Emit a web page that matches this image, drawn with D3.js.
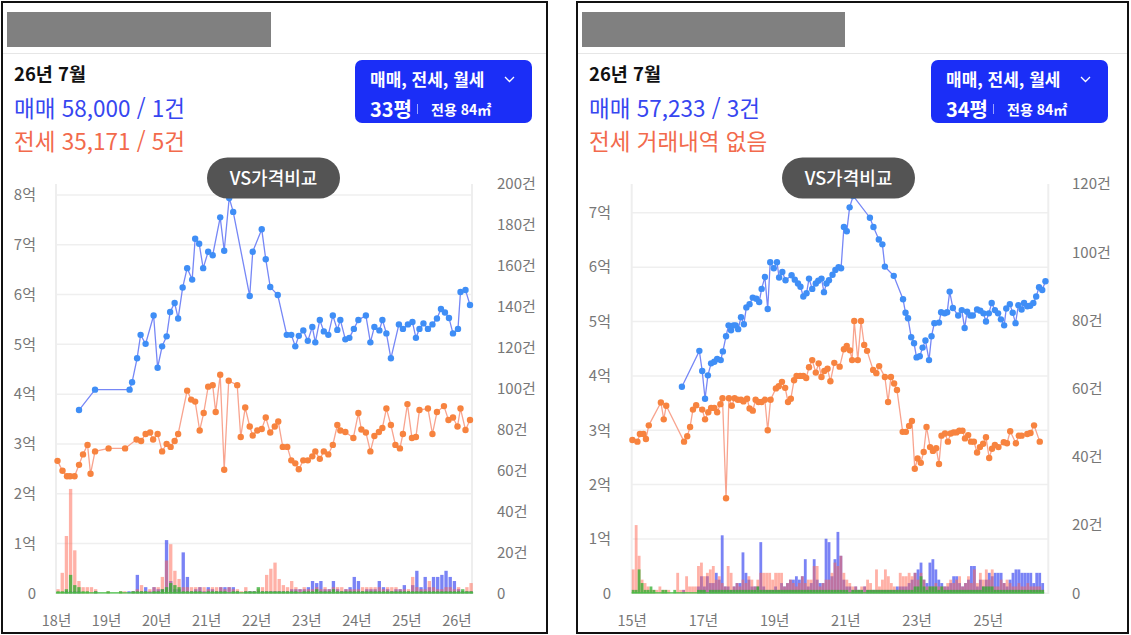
<!DOCTYPE html>
<html lang="ko">
<head>
<meta charset="UTF-8">
<script src="https://d3js.org/d3.v7.min.js"></script>
<style>
  body { margin: 0; background: #fff; }
  svg { display: block; font-family: "Noto Sans CJK KR", "Noto Sans", sans-serif; }
</style>
</head>
<body>
<svg id="chart" width="1131" height="635"></svg>
<script>
// ---------- left chart (33평) ----------
const leftSaleYears = [2018.46,2018.78,2019.47,2019.52,2019.62,2019.69,2019.79,2019.95,2020.03,2020.12,
  2020.21,2020.28,2020.37,2020.44,2020.53,2020.62,2020.72,2020.78,2020.86,2020.94,
  2021.04,2021.13,2021.28,2021.36,2021.46,2021.54,2021.87,2021.93,2022.11,2022.19,
  2022.28,2022.43,2022.61,2022.70,2022.78,2022.85,2022.94,2023.03,2023.12,2023.18,
  2023.27,2023.35,2023.44,2023.53,2023.62,2023.68,2023.78,2023.86,2023.95,2024.04,
  2024.19,2024.28,2024.36,2024.46,2024.52,2024.60,2024.69,2024.85,2024.93,2025.03,
  2025.12,2025.19,2025.26,2025.34,2025.43,2025.52,2025.61,2025.69,2025.77,2025.85,
  2025.93,2026.03,2026.08,2026.18,2026.27];
const leftSalePrice = [3.68,4.09,4.09,4.24,4.72,5.19,5.01,5.58,4.53,4.96,
  5.16,5.65,5.83,5.52,6.14,6.53,6.30,7.12,7.02,6.53,
  6.86,6.79,7.55,6.88,7.94,7.66,5.97,6.86,7.31,6.71,
  6.15,5.99,5.19,5.19,4.96,5.17,5.28,5.07,5.35,5.04,
  5.49,5.26,5.19,5.58,5.29,5.49,5.10,5.13,5.31,5.49,
  5.58,5.04,5.35,5.28,5.49,5.22,4.72,5.40,5.31,5.40,
  5.45,5.13,5.31,5.42,5.31,5.40,5.52,5.71,5.64,5.53,
  5.22,5.31,6.05,6.09,5.79];
const leftJeonseYears = [2018.03,2018.13,2018.22,2018.28,2018.37,2018.46,2018.54,2018.63,2018.69,2018.78,
  2019.05,2019.38,2019.61,2019.70,2019.79,2019.88,2019.94,2020.03,2020.12,2020.21,
  2020.29,2020.37,2020.44,2020.62,2020.70,2020.78,2020.87,2020.95,2021.04,2021.13,
  2021.19,2021.28,2021.36,2021.45,2021.62,2021.69,2021.78,2021.87,2021.93,2022.02,
  2022.11,2022.19,2022.28,2022.37,2022.44,2022.53,2022.62,2022.70,2022.78,2022.85,
  2022.94,2023.03,2023.12,2023.18,2023.27,2023.35,2023.44,2023.53,2023.62,2023.68,
  2023.78,2023.94,2024.04,2024.10,2024.19,2024.28,2024.36,2024.45,2024.52,2024.60,
  2024.69,2024.78,2024.87,2024.93,2025.02,2025.11,2025.19,2025.26,2025.43,2025.52,
  2025.61,2025.75,2025.84,2025.93,2026.02,2026.08,2026.18,2026.27];
const leftJeonsePrice = [2.66,2.46,2.35,2.35,2.35,2.58,2.79,2.98,2.40,2.85,
  2.91,2.91,3.09,3.06,3.20,3.23,3.09,3.20,2.85,3.00,
  2.94,3.06,3.20,4.07,3.89,3.85,3.27,3.62,4.15,4.18,
  3.64,4.39,2.48,4.27,4.18,3.14,3.73,3.35,3.17,3.27,
  3.30,3.53,3.23,3.35,3.45,2.94,2.94,2.67,2.61,2.49,
  2.67,2.67,2.75,2.85,2.70,2.85,2.79,2.98,3.38,3.27,
  3.24,3.12,3.62,3.29,3.23,2.85,3.16,3.24,3.32,3.71,
  3.38,2.98,2.91,3.20,3.80,3.12,3.14,3.68,3.71,3.20,
  3.64,3.76,3.48,3.53,3.35,3.71,3.28,3.48];
// monthly trade counts from 2018-01
const leftSaleVol = [0,0,1,1,1,1,0,0,0,1, 0,0,0,0,0,0,0,1,1,9, 1,3,1,3,2,2,26,6,2,2,
  20,8,1,2,3,1,3,2,1,3, 3,3,3,1,0,1,1,1,1,1, 1,1,1,1,1,1,2,2,2,2,
  3,6,5,6,2,2,6,2,1,2, 3,8,6,1,2,2,2,6,3,2, 1,2,2,4,1,4,11,3,8,3, 8,8,9,11,8,6,2,1,1,1];
const leftJeonseVol = [2,10,28,51,21,6,3,3,3,2, 0,0,1,0,0,1,1,0,1,2, 4,1,2,3,3,8,16,24,11,7,
  3,3,3,3,3,3,2,3,3,3, 2,3,2,2,1,3,1,1,2,3, 9,12,15,7,4,3,6,3,2,3,
  2,2,3,2,3,2,3,3,3,2, 2,2,2,3,3,3,3,3,2,3, 3,3,2,2,2,8,3,2,2,6, 3,2,2,3,3,2,3,1,3,5];
const leftRentVol = [1,1,2,9,4,3,1,1,0,1, 0,0,1,0,0,1,0,0,1,1, 1,1,0,1,1,2,3,5,4,3,
  1,1,1,1,1,0,1,1,1,1, 1,0,1,1,0,1,1,1,3,1, 1,1,1,1,1,1,1,1,0,1,
  1,1,2,1,1,1,2,1,1,1, 1,1,1,1,1,1,1,1,1,1, 1,1,1,1,1,1,1,1,1,1, 1,1,1,1,1,1,1,2,1,1];
const leftPriceTicks = [0,1,2,3,4,5,6,7,8];
const leftCountTicks = [0,20,40,60,80,100,120,140,160,180,200];
const leftYearTicks = [2018,2019,2020,2021,2022,2023,2024,2025,2026];

// ---------- right chart (34평) ----------
const rightSaleYears = [2016.41,2016.90,2016.98,2017.06,2017.14,2017.23,2017.32,2017.40,2017.50,2017.56,
  2017.65,2017.72,2017.79,2017.86,2017.92,2017.99,2018.07,2018.15,2018.22,2018.31,
  2018.40,2018.50,2018.58,2018.65,2018.74,2018.82,2018.89,2018.99,2019.08,2019.14,
  2019.23,2019.32,2019.49,2019.58,2019.67,2019.74,2019.82,2019.91,2019.98,2020.07,
  2020.17,2020.24,2020.33,2020.40,2020.47,2020.54,2020.64,2020.72,2020.81,2020.88,
  2020.96,2021.04,2021.12,2021.22,2021.69,2021.79,2021.94,2022.04,2022.11,2022.36,
  2022.62,2022.69,2022.76,2022.85,2022.93,2023.00,2023.09,2023.17,2023.25,2023.35,
  2023.42,2023.50,2023.63,2023.69,2023.79,2023.86,2023.93,2024.02,2024.17,2024.27,
  2024.35,2024.42,2024.51,2024.58,2024.70,2024.79,2024.88,2024.95,2025.03,2025.11,
  2025.20,2025.29,2025.37,2025.46,2025.52,2025.62,2025.70,2025.78,2025.86,2025.95,
  2026.02,2026.11,2026.19,2026.28,2026.36,2026.44,2026.53,2026.62];
const rightSalePrice = [3.80,4.46,4.09,3.58,4.01,4.23,4.26,4.31,4.29,4.45,
  4.73,4.93,4.84,4.93,4.93,4.86,5.08,4.95,5.26,5.32,
  5.44,5.42,5.36,5.60,5.82,5.23,6.09,5.98,6.09,5.81,
  5.91,5.76,5.85,5.77,5.70,5.64,5.46,5.52,5.79,5.60,
  5.70,5.75,5.79,5.54,5.70,5.76,5.86,5.95,6.00,5.98,
  6.74,6.66,7.10,7.31,6.91,6.74,6.51,6.42,6.01,5.84,
  5.41,5.16,5.06,4.71,4.60,4.34,4.36,4.52,4.65,4.29,
  4.73,4.97,4.98,5.17,5.15,5.17,5.55,5.25,5.11,5.21,
  4.88,5.18,5.11,5.11,5.22,5.20,5.15,5.00,5.15,5.34,
  5.21,5.15,5.04,4.93,5.24,5.32,5.16,4.97,5.30,5.22,
  5.34,5.28,5.29,5.34,5.46,5.63,5.58,5.74];
const rightJeonseYears = [2015.02,2015.16,2015.23,2015.33,2015.40,2015.48,2015.82,2015.90,2015.97,2016.47,
  2016.56,2016.64,2016.72,2016.81,2016.98,2017.06,2017.15,2017.23,2017.32,2017.40,
  2017.49,2017.55,2017.65,2017.73,2017.81,2017.89,2017.98,2018.07,2018.14,2018.24,
  2018.31,2018.40,2018.48,2018.56,2018.65,2018.74,2018.82,2018.90,2019.05,2019.13,
  2019.22,2019.31,2019.39,2019.47,2019.56,2019.63,2019.73,2019.82,2019.90,2019.98,
  2020.07,2020.17,2020.25,2020.33,2020.41,2020.50,2020.58,2020.69,2020.84,2020.96,
  2021.04,2021.13,2021.19,2021.25,2021.35,2021.44,2021.53,2021.61,2021.78,2021.87,
  2021.95,2022.11,2022.20,2022.28,2022.37,2022.45,2022.61,2022.70,2022.79,2022.87,
  2022.95,2023.03,2023.12,2023.20,2023.28,2023.38,2023.46,2023.55,2023.63,2023.70,
  2023.80,2023.88,2023.96,2024.04,2024.12,2024.20,2024.29,2024.36,2024.45,2024.53,
  2024.61,2024.70,2024.78,2024.87,2024.95,2025.04,2025.12,2025.20,2025.30,2025.45,
  2025.54,2025.63,2025.79,2025.87,2025.95,2026.11,2026.20,2026.30,2026.46];
const rightJeonsePrice = [2.82,2.79,2.93,2.93,2.84,3.09,3.51,3.20,3.45,2.79,
  2.89,3.06,3.38,3.46,3.38,3.20,3.33,3.41,3.41,3.33,
  3.48,3.59,1.75,3.59,3.45,3.59,3.56,3.56,3.53,3.58,
  3.40,3.36,3.56,3.52,3.52,3.56,3.00,3.56,3.77,3.81,
  3.89,3.78,3.52,3.58,3.92,4.00,4.00,4.00,3.96,4.16,
  4.29,4.06,4.23,3.98,4.09,4.13,3.90,4.24,4.17,4.49,
  4.55,4.47,4.29,5.01,4.29,5.01,4.57,4.46,4.11,4.05,
  4.18,3.98,3.52,3.98,3.86,3.74,2.97,2.97,3.08,3.17,
  2.29,2.48,2.40,2.60,3.06,2.69,2.62,2.67,2.38,2.90,
  2.94,2.79,2.94,2.96,2.96,2.99,2.99,2.85,2.91,2.79,
  2.79,2.59,2.69,2.75,2.87,2.49,2.66,2.73,2.69,2.78,
  2.76,2.98,2.76,2.90,2.90,2.93,2.95,3.09,2.79];
// monthly trade counts from 2015-01
const rightSaleVol = [0,0,0,0,0,0,0,0,0,0, 0,0,0,0,0,0,0,1,0,0, 0,0,2,5,2,5,3,3,6,4,
  17,2,2,1,2,3,3,12,6,4, 2,2,2,15,2,1,1,1,2,1, 3,2,3,4,4,5,4,5,10,2,
  3,10,4,3,3,16,15,5,10,18, 11,4,2,2,1,2,1,1,2,1, 1,1,1,1,1,1,1,1,1,2,
  2,2,2,3,4,6,7,9,4,3, 9,10,7,4,3,2,2,3,5,5, 3,2,3,4,8,8,2,4,2,4,
  6,5,6,6,6,3,2,4,6,7, 7,6,6,6,6,3,6,6,3];
const rightJeonseVol = [7,20,11,4,3,2,1,1,1,2, 1,1,1,0,0,6,1,1,5,2, 2,2,8,9,5,6,7,8,4,5,
  3,2,8,6,2,3,2,4,3,5, 4,2,4,6,6,6,6,4,6,6, 6,2,3,4,3,2,3,5,3,4,
  4,8,8,2,3,4,4,6,9,8, 11,6,4,3,2,2,1,2,2,4, 3,1,7,2,4,7,5,3,2,1,
  6,5,5,6,5,6,4,6,4,2, 2,2,3,2,2,2,3,4,3,4, 5,2,3,5,3,7,3,6,4,7,
  4,7,2,2,4,3,4,3,2,2, 3,2,2,3,2,2,2,2,1];
const rightRentVol = [1,1,7,3,1,1,2,1,0,0, 1,1,0,0,1,0,0,0,0,0, 0,0,1,1,1,0,1,1,1,1,
  1,1,1,1,1,1,1,1,1,1, 1,1,2,1,1,1,1,1,1,1, 1,1,1,1,1,1,1,1,1,1,
  1,1,1,1,1,1,1,1,1,1, 1,1,1,0,1,1,1,1,0,1, 1,1,1,1,1,1,1,1,1,1,
  1,1,1,1,1,2,2,5,2,1, 2,2,2,1,2,1,1,1,1,1, 1,1,1,1,1,1,1,1,2,2,
  2,2,1,1,1,1,1,1,1,1, 1,1,1,1,1,1,1,1,1];
const rightPriceTicks = [0,1,2,3,4,5,6,7];
const rightCountTicks = [0,20,40,60,80,100,120];
const rightYearTicks = [2015,2017,2019,2021,2023,2025];

const svg = d3.select("#chart");

const SALE_LINE = "#7687f6", SALE_DOT = "#3f8ef6";
const JEONSE_LINE = "#f8a48f", JEONSE_DOT = "#f7833f";

function drawPanel(p) {
    var ox = p.ox;
    var g = svg.append("g");

    // frame + header
    g.append("rect").attr("x", p.frameX).attr("y", 2).attr("width", p.frameW).attr("height", 631)
        .attr("fill", "#fff").attr("stroke", "#111").attr("stroke-width", 2);
    g.append("rect").attr("x", ox + 7).attr("y", 12).attr("width", p.titleW).attr("height", 35).attr("fill", "#808080");
    g.append("line").attr("x1", p.frameX + 1).attr("x2", p.frameX + p.frameW - 1)
        .attr("y1", 53.5).attr("y2", 53.5).attr("stroke", "#e6e6e6");

    g.append("text").attr("x", ox + 14).attr("y", 81).attr("font-size", 18.5).attr("font-weight", 600)
        .attr("fill", "#111").text(p.month);
    g.append("text").attr("x", ox + 14).attr("y", 117).attr("font-size", 22.5).attr("fill", "#3646f0").text(p.saleText);
    g.append("text").attr("x", ox + 14).attr("y", 150).attr("font-size", 22.5).attr("fill", "#f26a4c").text(p.jeonseText);

    // type button
    var bx = ox + p.btnX;
    g.append("rect").attr("x", bx).attr("y", 60).attr("width", 177).attr("height", 63).attr("rx", 7)
        .attr("fill", "#1b2ef7");
    g.append("text").attr("x", bx + 15).attr("y", 86).attr("font-size", 17).attr("font-weight", 700)
        .attr("fill", "#fff").text("매매, 전세, 월세");
    g.append("polyline").attr("points", [[bx + 150, 77], [bx + 154.5, 81.5], [bx + 159, 77]].join(" "))
        .attr("fill", "none").attr("stroke", "#fff").attr("stroke-width", 1.3);
    g.append("text").attr("x", bx + 15).attr("y", 116.5).attr("font-size", 20).attr("font-weight", 700)
        .attr("fill", "#fff").text(p.pyeong);
    g.append("line").attr("x1", bx + 62.5).attr("x2", bx + 62.5).attr("y1", 104).attr("y2", 114)
        .attr("stroke", "#9aa3ff").attr("stroke-width", 1);
    g.append("text").attr("x", bx + 76).attr("y", 115).attr("font-size", 14).attr("font-weight", 700)
        .attr("fill", "#fff").text("전용 84㎡");

    // scales
    var x = d3.scaleLinear().domain(p.xDomain).range([p.plotL, p.plotR]);
    var yP = d3.scaleLinear().domain([0, p.priceMax]).range([593.3, 184]);
    var yC = d3.scaleLinear().domain([0, p.countMax]).range([593.3, 184]);

    // grid + plot edges
    g.append("g").selectAll("line").data(p.priceTicks).join("line")
        .attr("x1", p.plotL).attr("x2", p.plotR)
        .attr("y1", d => yP(d)).attr("y2", d => yP(d))
        .attr("stroke", "#efefef").attr("stroke-width", 1.5);
    g.append("g").selectAll("line").data([p.plotL, p.plotR]).join("line")
        .attr("x1", d => d).attr("x2", d => d).attr("y1", 184).attr("y2", 594)
        .attr("stroke", "#eeeeee").attr("stroke-width", 2);

    // axes
    var styleAxis = function(a) {
        a.select(".domain").remove();
        a.attr("font-family", null);
        a.selectAll("text").attr("fill", "#777");
    };
    g.append("g").attr("transform", "translate(" + (ox + 36) + ",0)")
        .call(d3.axisLeft(yP).tickValues(p.priceTicks).tickSize(0).tickPadding(0)
            .tickFormat(d => d === 0 ? "0" : d + "억"))
        .call(styleAxis).attr("font-size", 15);
    g.append("g").attr("transform", "translate(" + (ox + 497) + ",0)")
        .call(d3.axisRight(yC).tickValues(p.countTicks).tickSize(0).tickPadding(0)
            .tickFormat(d => d === 0 ? "0" : d + "건"))
        .call(styleAxis).attr("font-size", 15);
    g.append("g").attr("transform", "translate(0,593.3)")
        .call(d3.axisBottom(x).tickValues(p.yearTicks).tickSize(0).tickPadding(22)
            .tickFormat(d => String(d).slice(2) + "년"))
        .call(styleAxis).attr("font-size", 14.5);

    // volume bars (monthly)
    var monthW = x(p.xDomain[0] + 1 / 12) - x(p.xDomain[0]);
    var barW = monthW * p.barFrac;
    var barLayer = function(values, color, opacity) {
        g.append("g").selectAll("rect").data(values).join("rect")
            .attr("x", (d, i) => x(p.volStart + (i + 0.5) / 12) - barW / 2)
            .attr("width", barW)
            .attr("y", d => yC(d))
            .attr("height", d => yC(0) - yC(d))
            .attr("fill", color).attr("fill-opacity", opacity);
    };
    barLayer(p.saleVol, "#3241f0", 0.65);
    barLayer(p.jeonseVol, "#ff6450", 0.5);
    barLayer(p.rentVol, "#2fae2f", 0.75);
    g.append("line")
        .attr("x1", x(p.volStart)).attr("x2", x(p.volStart + p.rentVol.length / 12))
        .attr("y1", yC(0) - 0.5).attr("y2", yC(0) - 0.5)
        .attr("stroke", "#44c044").attr("stroke-width", 1.2);

    // price lines
    var series = function(years, prices, lineColor, dotColor) {
        var pts = years.map((yr, i) => [yr, prices[i]]);
        g.append("path").datum(pts)
            .attr("d", d3.line().x(d => x(d[0])).y(d => yP(d[1])))
            .attr("fill", "none").attr("stroke", lineColor).attr("stroke-width", 1.3);
        g.append("g").selectAll("circle").data(pts).join("circle")
            .attr("cx", d => x(d[0])).attr("cy", d => yP(d[1])).attr("r", 3.2)
            .attr("fill", dotColor);
    };
    series(p.jeonseYears, p.jeonsePrice, JEONSE_LINE, JEONSE_DOT);
    series(p.saleYears, p.salePrice, SALE_LINE, SALE_DOT);

    // VS pill
    var px = ox + p.pillX;
    g.append("rect").attr("x", px).attr("y", 157.5).attr("width", 133).attr("height", 41).attr("rx", 20.5)
        .attr("fill", "#545454");
    g.append("text").attr("x", px + 66.5).attr("y", 184.5).attr("text-anchor", "middle")
        .attr("font-size", 18).attr("font-weight", 500).attr("fill", "#fff").text("VS가격비교");
}

drawPanel({
    ox: 0, frameX: 2, frameW: 545, titleW: 264, btnX: 355, pillX: 207,
    month: "26년 7월", saleText: "매매 58,000 / 1건", jeonseText: "전세 35,171 / 5건", pyeong: "33평",
    plotL: 56, plotR: 472, xDomain: [2018, 2026.31], priceMax: 8.22, countMax: 200,
    priceTicks: leftPriceTicks, countTicks: leftCountTicks, yearTicks: leftYearTicks,
    saleYears: leftSaleYears, salePrice: leftSalePrice,
    jeonseYears: leftJeonseYears, jeonsePrice: leftJeonsePrice,
    volStart: 2018, saleVol: leftSaleVol, jeonseVol: leftJeonseVol, rentVol: leftRentVol, barFrac: 0.8
});

drawPanel({
    ox: 575, frameX: 577, frameW: 551, titleW: 263, btnX: 356, pillX: 207,
    month: "26년 7월", saleText: "매매 57,233 / 3건", jeonseText: "전세 거래내역 없음", pyeong: "34평",
    plotL: 631.7, plotR: 1048.3, xDomain: [2015, 2026.70], priceMax: 7.53, countMax: 120,
    priceTicks: rightPriceTicks, countTicks: rightCountTicks, yearTicks: rightYearTicks,
    saleYears: rightSaleYears, salePrice: rightSalePrice,
    jeonseYears: rightJeonseYears, jeonsePrice: rightJeonsePrice,
    volStart: 2015, saleVol: rightSaleVol, jeonseVol: rightJeonseVol, rentVol: rightRentVol, barFrac: 0.95
});
</script>
</body>
</html>
